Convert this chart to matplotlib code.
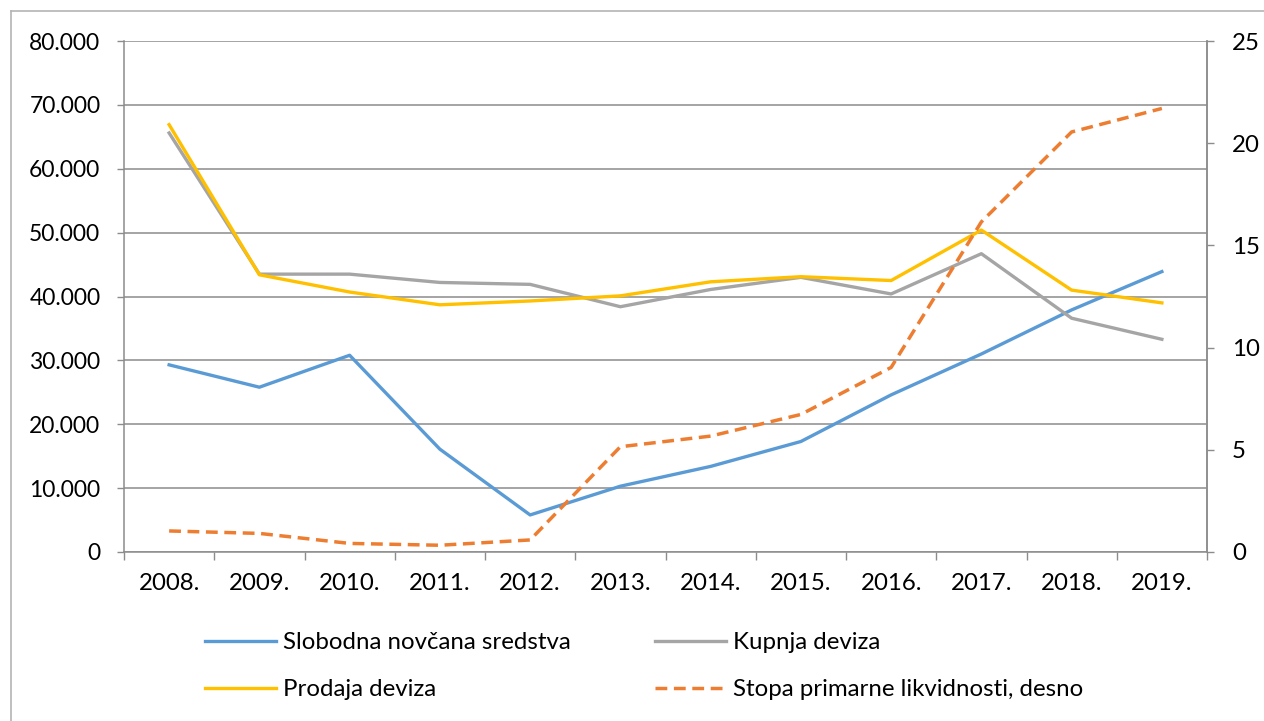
import numpy as np
import matplotlib
matplotlib.use('Agg')
import matplotlib.pyplot as plt
from matplotlib.lines import Line2D

# data
years = ['2008.', '2009.', '2010.', '2011.', '2012.', '2013.',
         '2014.', '2015.', '2016.', '2017.', '2018.', '2019.']
slobodna = [29300, 25800, 30800, 16100, 5800, 10300,
            13400, 17300, 24600, 31000, 37900, 43900]
kupnja = [65600, 43500, 43500, 42200, 41900, 38400,
          41100, 43000, 40400, 46700, 36600, 33300]
prodaja = [66900, 43400, 40700, 38700, 39300, 40100,
           42300, 43100, 42500, 50400, 41000, 39000]
stopa = [1.03, 0.91, 0.42, 0.33, 0.59, 5.15,
         5.67, 6.73, 9.03, 16.15, 20.55, 21.7]

left_ticks = [0, 10000, 20000, 30000, 40000, 50000, 60000, 70000, 80000]
right_ticks = [0, 5, 10, 15, 20, 25]

plt.rcParams['font.family'] = ['Lato', 'DejaVu Sans']
fs = 17.3
axis_col = '#8c8c8c'

fig = plt.figure(figsize=(12.64, 7.21), dpi=100)
ax = fig.add_axes([124/1264, 1 - 552/721, (1207 - 124)/1264, (552 - 41)/721])
ax2 = ax.twinx()

x = np.arange(len(years))
l1, = ax.plot(x, slobodna, color='#5B9BD5', lw=2.4, label='Slobodna novčana sredstva')
l2, = ax.plot(x, kupnja, color='#A5A5A5', lw=2.4, label='Kupnja deviza')
l3, = ax.plot(x, prodaja, color='#FFC000', lw=2.4, label='Prodaja deviza')
l4, = ax2.plot(x, stopa, color='#ED7D31', lw=2.5, dashes=(3.4, 1.9),
               label='Stopa primarne likvidnosti, desno')

ax.set_xlim(-0.5, len(years) - 0.5)
ax.set_ylim(0, 80000)
ax2.set_ylim(0, 25)

ax.set_yticks(left_ticks)
ax.set_yticklabels([f'{v:,}'.replace(',', '.') for v in left_ticks])
ax2.set_yticks(right_ticks)
ax2.set_yticklabels([str(v) for v in right_ticks])

ax.set_xticks(x)
ax.set_xticklabels(years)
ax.set_xticks(np.arange(-0.5, len(years)), minor=True)
ax.tick_params(axis='x', which='major', length=0, pad=15, labelsize=fs)
ax.tick_params(axis='x', which='minor', length=6, color=axis_col, width=1)
ax.tick_params(axis='y', length=5, color=axis_col, width=1, pad=12, labelsize=16.5)
ax2.tick_params(axis='y', length=5, color=axis_col, width=1, pad=13, labelsize=fs)

ax.grid(axis='y', color=axis_col, lw=1.1)
ax.set_axisbelow(True)
for a in (ax, ax2):
    a.spines['top'].set_visible(False)
    for s in ('left', 'right', 'bottom'):
        a.spines[s].set_color(axis_col)
        a.spines[s].set_linewidth(1.1)
ax2.spines['left'].set_visible(False)
ax2.spines['bottom'].set_visible(False)

leg = fig.legend([l1, l3, l2, l4],
                 [l1.get_label(), l3.get_label(), l2.get_label(), l4.get_label()],
                 ncol=2, loc='upper left', bbox_to_anchor=(205/1264, 1 - 632/721),
                 frameon=False, fontsize=fs, handlelength=2.95, handletextpad=0.3,
                 labelspacing=1.1, columnspacing=3.5, borderaxespad=0, borderpad=0)

# outer chart frame (only left and top edges visible)
fig.add_artist(Line2D([11/1264, 11/1264], [0, 1 - 11/721], color='#b4b4b4', lw=1.2,
                      transform=fig.transFigure))
fig.add_artist(Line2D([11/1264, 1], [1 - 11/721, 1 - 11/721], color='#b4b4b4', lw=1.2,
                      transform=fig.transFigure))

fig.savefig('out.png', dpi=100)
